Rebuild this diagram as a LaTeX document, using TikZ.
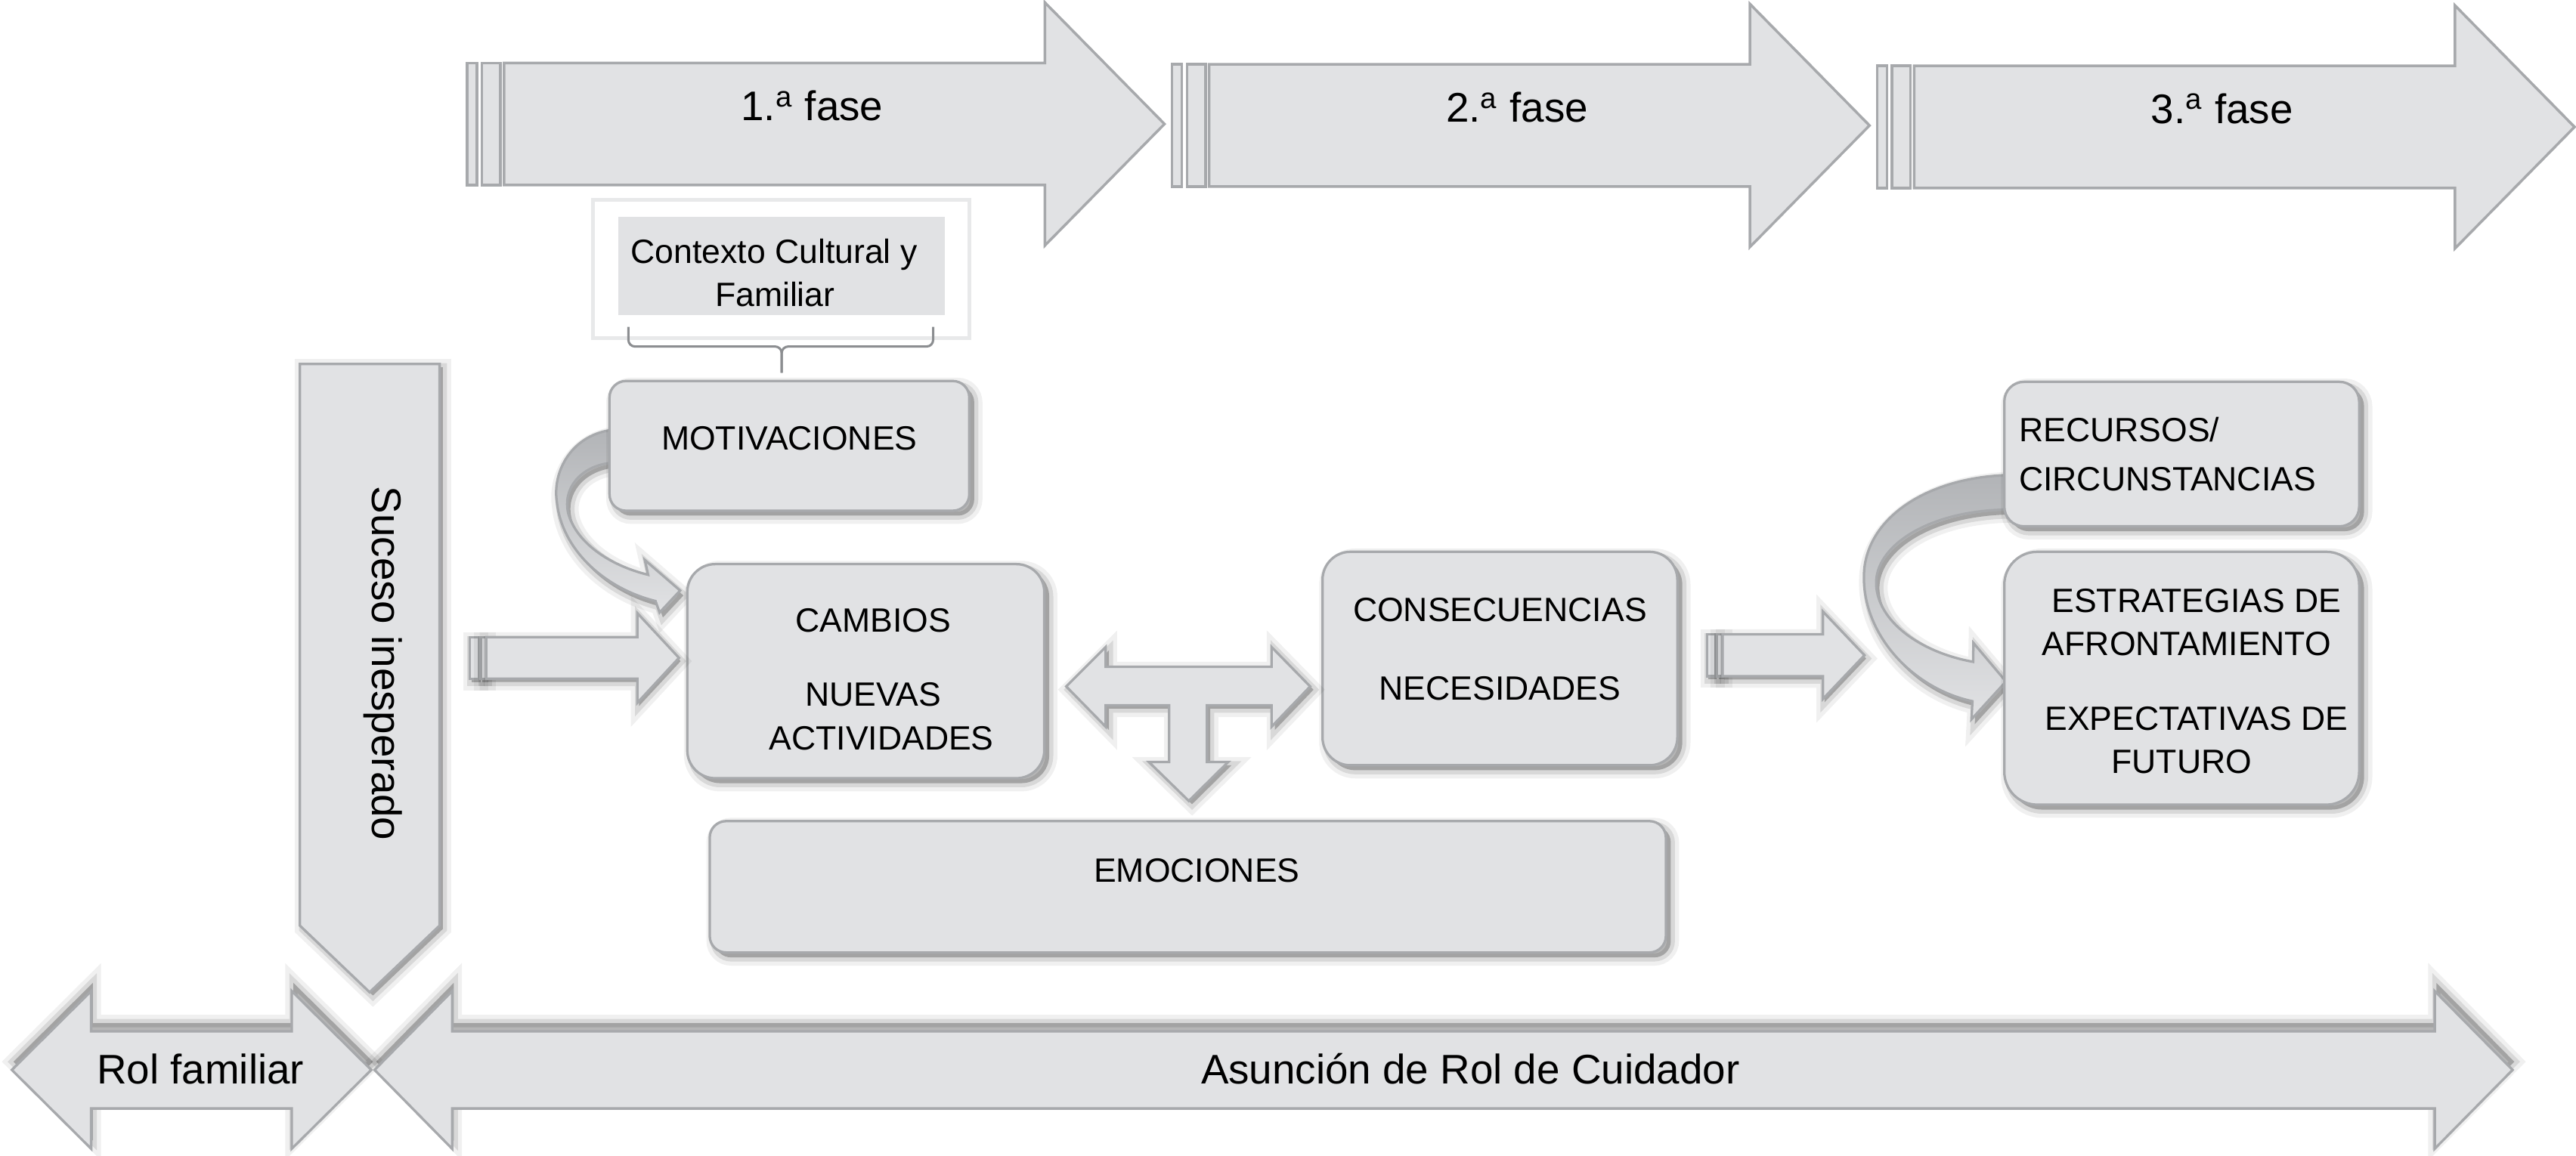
\documentclass[tikz,border=0pt]{standalone}
\usepackage{fontspec}
\setmainfont{Liberation Sans}
\usetikzlibrary{positioning}

\definecolor{cajagris}{RGB}{225,226,228}
\definecolor{bordegris}{RGB}{167,169,172}
\definecolor{bandaoscura}{RGB}{178,180,183}
\definecolor{marcogris}{RGB}{232,233,234}
\definecolor{llavegris}{RGB}{140,142,145}

\newlength\px
\setlength\px{0.5pt}
\newcommand\cajafont{\fontsize{10.25pt}{13.2pt}\selectfont}
\newcommand\flechafont{\fontsize{12.6pt}{15pt}\selectfont}

\tikzset{
  softshadow/.style={
    preaction={draw=black, draw opacity=0.06, line width=10\px, fill=black, fill opacity=0.06, transform canvas={shift={(#1)}}},
    preaction={draw=black, draw opacity=0.10, line width=5\px, fill=black, fill opacity=0.10, transform canvas={shift={(#1)}}},
    preaction={fill=black, fill opacity=0.10, transform canvas={shift={(#1)}}}},
}

\begin{document}
\begin{tikzpicture}[x=0.5pt, y=-0.5pt,
    fase/.style={fill=cajagris, draw=bordegris, line width=1.6\px},
    flecha/.style={fill=cajagris, draw=bordegris, line width=1.5\px},
    banda/.style={top color=bandaoscura, bottom color=cajagris, draw=bordegris, line width=1.5\px},
    caja/.style={rectangle, rounded corners=#1, fill=cajagris, draw=bordegris, line width=1.5\px,
                 inner sep=2\px, align=center, font=\cajafont, softshadow={3,3}},
    caja/.default=12\px,
    contexto/.style={rectangle, fill=cajagris, inner sep=2\px, align=center, font=\cajafont},
    flechatexto/.style={font=\flechafont, inner sep=0pt},
    llave/.style={draw=llavegris, line width=1.4\px, rounded corners=4\px}]
\useasboundingbox (0,0) rectangle (1568,703.5);

% fases
\foreach \i/\n in {0/1,1/2,2/3}{
  \pgfmathsetmacro{\xo}{284.3+429.15*\i}
  \pgfmathsetmacro{\yo}{0.9*\i}
  \begin{scope}[shift={(\xo,\yo)}]
    \draw[fase] (0,38.3) rectangle (6,112.7);
    \draw[fase] (9,38.3) rectangle (20.3,112.7);
    \draw[fase] (22.5,38.3) -- (351.7,38.3) -- (351.7,1.5) -- (424.5,75.5)
      -- (351.7,149.5) -- (351.7,112.7) -- (22.5,112.7) -- cycle;
    \node[flechatexto, anchor=base] (fase\n) at (210,73.6) {\n.\textsuperscript{a} fase};
  \end{scope}
}

% contexto
\draw[draw=marcogris, line width=2.3\px] (361,121.5) rectangle (590,206);
\node[contexto, minimum width=198.6\px, minimum height=60\px] (contexto) at (475.7,162)
  {\rule{0pt}{23\px}Contexto Cultural y\hspace*{9\px}\\Familiar\hspace*{8\px}};
\draw[llave] (382.5,199) |- (475.8,211) -- (475.8,227);
\draw[llave] (568,199) |- (475.8,211) -- (475.8,227);

% roles
\draw[flecha, softshadow={1,-5}] (7.2,651.5) -- (55.5,603.5) -- (55.5,628) -- (177.6,628)
  -- (177.6,603.5) -- (226,651.5) -- (177.6,699.5) -- (177.6,675) -- (55.5,675)
  -- (55.5,699.5) -- cycle;
\draw[flecha, softshadow={1,-5}] (228,651.5) -- (275.2,603.5) -- (275.2,628) -- (1482,628)
  -- (1482,603.5) -- (1529.4,651.5) -- (1482,699.5) -- (1482,675) -- (275.2,675)
  -- (275.2,699.5) -- cycle;
\node[flechatexto, anchor=base] (rolfamiliar) at (122,660) {Rol familiar};
\node[flechatexto, anchor=base] (asuncion) at (895,660) {Asunción de Rol de Cuidador};

% suceso
\draw[flecha, softshadow={2,2}] (182.5,221.6) -- (267.6,221.6) -- (267.6,563.6)
  -- (225,604.2) -- (182.5,563.6) -- cycle;
\node[flechatexto, rotate=-90, anchor=base] (suceso) at (226.5,404) {Suceso inesperado};

% bandas curvas
\shadedraw[banda, softshadow={2,3}] (384,262) -- (371,262)
  .. controls (347,266) and (336,288) .. (339,306)
  .. controls (342,334) and (367,358) .. (399,366)
  -- (401.5,373) -- (414,359.6) -- (392.5,341) -- (394.5,350)
  .. controls (370,344) and (351,330) .. (346,313)
  .. controls (342,297) and (354,284) .. (371,282) -- (384,282) -- cycle;
\shadedraw[banda, softshadow={2,3}] (1232,289.3) -- (1221.6,289.3)
  .. controls (1172,291) and (1136,316) .. (1134.6,349)
  .. controls (1133,385) and (1163,419) .. (1200.6,427)
  -- (1200,438) -- (1221,415) -- (1201.2,391.5) -- (1201,403)
  .. controls (1168,397) and (1143,378) .. (1142,356)
  .. controls (1141,333) and (1173,311) .. (1221.6,310.3) -- (1232,310.3) -- cycle;

% cajas
\node[caja=10\px, minimum width=219\px, minimum height=79\px] (motivaciones) at (480.5,271.5)
  {MOTIVACIONES\rule[-9\px]{0pt}{0pt}};
\node[caja=17\px, minimum width=217.3\px, minimum height=130.4\px] (cambios) at (527,408.7)
  {\rule{0pt}{24\px}\hspace*{9\px}CAMBIOS\\[9.4pt]\hspace*{9\px}NUEVAS\\\hspace*{19\px}ACTIVIDADES};
\node[caja=17\px, minimum width=216\px, minimum height=130\px] (consecuencias) at (913,401)
  {CONSECUENCIAS\\[10.8pt]NECESIDADES\rule[-11.5\px]{0pt}{0pt}};
\node[caja=10\px, minimum width=582\px, minimum height=80\px] (emociones) at (723,540)
  {\hspace*{11\px}EMOCIONES\rule[-20\px]{0pt}{0pt}};
\node[caja=20\px, minimum width=216\px, minimum height=154\px] (estrategias) at (1328,413)
  {\rule{0pt}{18\px}\hspace*{18\px}ESTRATEGIAS DE\\\hspace*{6\px}AFRONTAMIENTO\\[9.6pt]\hspace*{18\px}EXPECTATIVAS DE\\FUTURO};
\node[caja=12\px, minimum width=216\px, minimum height=88\px, text width=198\px, align=left,
  above=14\px of estrategias] (recursos) {RECURSOS/\\[1.6pt]CIRCUNSTANCIAS};

% flechas de bloque
\draw[flecha, softshadow={1,2}] (286,388) rectangle (291.4,413.3);
\draw[flecha, softshadow={1,2}] (292.6,388) rectangle (296,413.3);
\draw[flecha, softshadow={1,2}] (296,388) -- (388,388) -- (388,373.4) -- (413.3,400.6)
  -- (388,427.9) -- (388,413.3) -- (296,413.3) -- cycle;
\draw[flecha, softshadow={1,2}] (1039,386.2) rectangle (1044,411.8);
\draw[flecha, softshadow={1,2}] (1045.2,386.2) rectangle (1048.5,411.8);
\draw[flecha, softshadow={1,2}] (1048.5,386.2) -- (1109.6,386.2) -- (1109.6,372.4) -- (1134.9,399)
  -- (1109.6,425.6) -- (1109.6,411.8) -- (1048.5,411.8) -- cycle;
\draw[flecha, softshadow={2,2}] (649,418) -- (673,394) -- (673,406) -- (774,406) -- (774,394)
  -- (797.5,418) -- (774,442.5) -- (774,429.5) -- (734.6,429.5) -- (734.6,464) -- (747.6,464)
  -- (723.6,487.7) -- (699.3,464) -- (711.6,464) -- (711.6,429.5) -- (673,429.5)
  -- (673,442.5) -- cycle;
\end{tikzpicture}
\end{document}
